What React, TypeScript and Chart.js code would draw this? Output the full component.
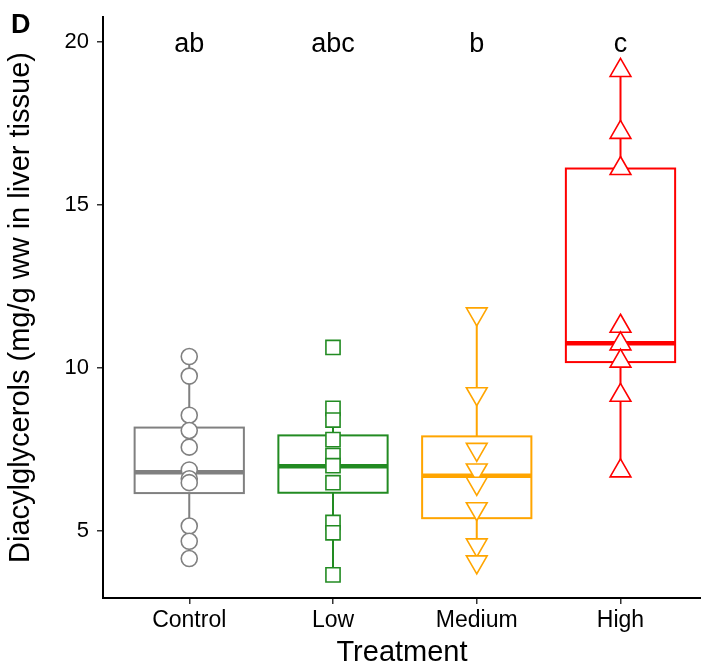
import React, { useEffect, useRef } from "react";
import { Chart, registerables } from "chart.js";

Chart.register(...registerables);

const categories = ["Control", "Low", "Medium", "High"];
const letters = ["ab", "abc", "b", "c"];
const colors = ["#808080", "#228B22", "#FFA500", "#FF0000"];
const pointStyles = ["circle", "rect", "triangle", "triangle"];
const pointRotations = [0, 0, 180, 0];
const pointRadii = [8, 10, 12, 12];

const controlValues = [10.35, 9.75, 8.55, 8.08, 7.57, 6.87, 6.6, 6.48, 5.15, 4.68, 4.15];
const lowValues = [10.63, 8.76, 8.4, 7.8, 7.31, 7.0, 6.48, 5.26, 4.94, 3.65];
const mediumValues = [11.66, 9.21, 7.5, 6.87, 6.46, 5.68, 4.57, 4.05];
const highValues = [19.13, 17.23, 16.12, 11.28, 10.74, 10.21, 9.16, 6.84];

const q1 = [6.16, 6.17, 5.39, 10.18];
const medians = [6.8, 6.98, 6.69, 10.76];
const q3 = [8.17, 7.93, 7.9, 16.12];
const whiskerLow = [4.15, 3.65, 4.05, 6.84];
const whiskerHigh = [10.35, 8.76, 11.66, 19.13];

const yTicks = [5, 10, 15, 20];
const letterY = 20;
const boxHalfWidth = 0.38;

const seriesValues = [controlValues, lowValues, mediumValues, highValues];

const FONT = "'Liberation Sans', Arial, Helvetica, sans-serif";

const boxPlugin = {
  id: "boxes",
  beforeDatasetsDraw(chart: any) {
    const { ctx, scales } = chart;
    const xs = scales.x;
    const ys = scales.y;
    ctx.save();
    categories.forEach((_, i) => {
      const xc = xs.getPixelForValue(i + 1);
      const xl = xs.getPixelForValue(i + 1 - boxHalfWidth);
      const xr = xs.getPixelForValue(i + 1 + boxHalfWidth);
      const yq1 = ys.getPixelForValue(q1[i]);
      const yq3 = ys.getPixelForValue(q3[i]);
      const ym = ys.getPixelForValue(medians[i]);
      const ylo = ys.getPixelForValue(whiskerLow[i]);
      const yhi = ys.getPixelForValue(whiskerHigh[i]);
      ctx.strokeStyle = colors[i];
      ctx.lineWidth = 2;
      ctx.beginPath();
      ctx.moveTo(xc, yq3);
      ctx.lineTo(xc, yhi);
      ctx.moveTo(xc, yq1);
      ctx.lineTo(xc, ylo);
      ctx.stroke();
      ctx.fillStyle = "white";
      ctx.fillRect(xl, yq3, xr - xl, yq1 - yq3);
      ctx.strokeRect(xl, yq3, xr - xl, yq1 - yq3);
      ctx.lineWidth = 4.5;
      ctx.beginPath();
      ctx.moveTo(xl, ym);
      ctx.lineTo(xr, ym);
      ctx.stroke();
    });
    ctx.restore();
  },
  afterDraw(chart: any) {
    const { ctx, scales } = chart;
    const xs = scales.x;
    const ys = scales.y;
    ctx.save();
    ctx.fillStyle = "#000";
    ctx.font = `27px ${FONT}`;
    ctx.textAlign = "center";
    ctx.textBaseline = "middle";
    letters.forEach((t, i) => {
      ctx.fillText(t, xs.getPixelForValue(i + 1), ys.getPixelForValue(letterY) + 2);
    });
    ctx.font = `bold 27px ${FONT}`;
    ctx.textAlign = "left";
    ctx.textBaseline = "alphabetic";
    ctx.fillText("D", 11, 33);
    ctx.restore();
  },
};

export default function App() {
  const ref = useRef<HTMLCanvasElement | null>(null);
  useEffect(() => {
    if (!ref.current) return;
    const datasets = seriesValues.map((vals, i) => ({
      label: categories[i],
      data: vals.map((v) => ({ x: i + 1, y: v })),
      pointStyle: pointStyles[i],
      rotation: pointRotations[i],
      radius: pointRadii[i],
      hoverRadius: pointRadii[i],
      borderColor: colors[i],
      backgroundColor: "white",
      borderWidth: 1.6,
      hoverBorderWidth: 1.6,
      showLine: false,
    }));
    const chart = new Chart(ref.current, {
      type: "scatter",
      data: { datasets },
      plugins: [boxPlugin],
      options: {
        responsive: false,
        animation: false,
        events: [],
        layout: { autoPadding: false, padding: { top: 17, left: 0, right: 0, bottom: 0 } },
        plugins: { legend: { display: false }, tooltip: { enabled: false } },
        scales: {
          x: {
            type: "linear",
            min: 0.4,
            max: 4.56,
            afterBuildTicks: (s: any) => {
              s.ticks = categories.map((_, i) => ({ value: i + 1 }));
            },
            afterFit: (s: any) => {
              s.height = 67;
              s.paddingLeft = 0;
              s.paddingRight = 0;
            },
            ticks: {
              callback: (v: any) => categories[Math.round(v) - 1] ?? "",
              color: "#000",
              font: { family: FONT, size: 23 },
              padding: 3,
              maxRotation: 0,
              autoSkip: false,
            },
            grid: { drawOnChartArea: false, drawTicks: true, tickLength: 6, tickColor: "#333", lineWidth: 1.5 },
            border: { display: true, color: "#000", width: 2 },
            title: {
              display: true,
              text: "Treatment",
              color: "#000",
              font: { family: FONT, size: 29, lineHeight: 0.85 },
              padding: { top: 0, bottom: 0 },
            },
          },
          y: {
            type: "linear",
            min: 2.94,
            max: 20.77,
            afterBuildTicks: (s: any) => {
              s.ticks = yTicks.map((v) => ({ value: v }));
            },
            afterFit: (s: any) => {
              s.width = 103;
              s.paddingTop = 0;
              s.paddingBottom = 0;
            },
            ticks: {
              color: "#000",
              font: { family: FONT, size: 22 },
              padding: 8,
            },
            grid: { drawOnChartArea: false, drawTicks: true, tickLength: 6, tickColor: "#333", lineWidth: 1.5 },
            border: { display: true, color: "#000", width: 2 },
            title: {
              display: true,
              text: "Diacylglycerols (mg/g ww in liver tissue)",
              color: "#000",
              font: { family: FONT, size: 29, lineHeight: 1 },
              padding: { top: 6, bottom: 0 },
            },
          },
        },
      },
    } as any);
    return () => chart.destroy();
  }, []);
  return (
    <div style={{ position: "absolute", left: 0, top: 0, width: 701, height: 665, background: "white" }}>
      <canvas ref={ref} width={701} height={665} style={{ width: 701, height: 665, display: "block" }} />
    </div>
  );
}
